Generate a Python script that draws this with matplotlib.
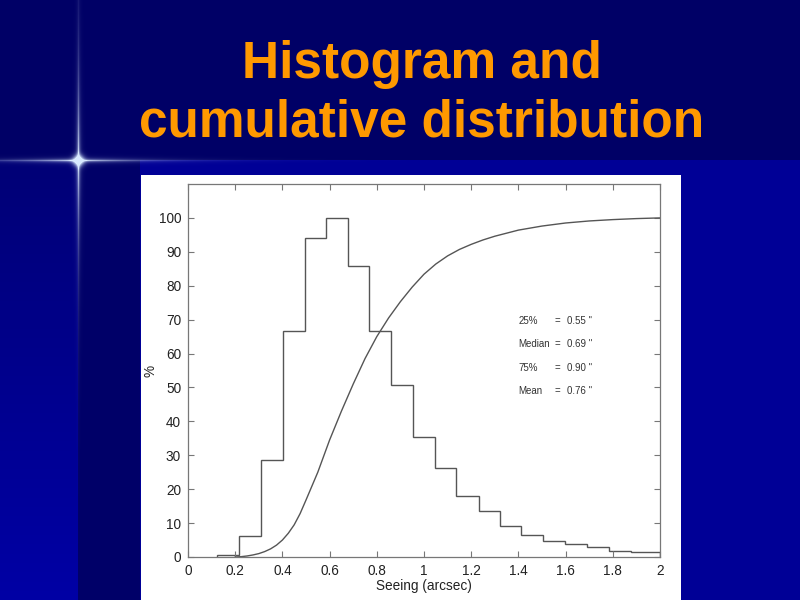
import numpy as np
import matplotlib
matplotlib.use("Agg")
import matplotlib.pyplot as plt
from matplotlib.patches import Rectangle

# ---- data ----
bin_edges = [0.124, 0.217, 0.308, 0.404, 0.496, 0.585, 0.680, 0.768, 0.861, 0.955,
             1.045, 1.136, 1.232, 1.322, 1.410, 1.506, 1.599, 1.692, 1.785, 1.876, 2.0]
hist_values = [0.7, 6.3, 28.6, 66.7, 94.2, 100.0, 85.9, 66.7, 50.7, 35.5,
               26.3, 18.0, 13.5, 9.1, 6.6, 4.6, 3.8, 2.9, 1.9, 1.4]

cdf_x = [0.20, 0.225, 0.25, 0.275, 0.30, 0.325, 0.35, 0.375, 0.40, 0.425, 0.45,
         0.475, 0.50, 0.55, 0.60, 0.65, 0.70, 0.75, 0.80, 0.85, 0.90, 0.95,
         1.00, 1.05, 1.10, 1.15, 1.20, 1.25, 1.30, 1.40, 1.50, 1.60, 1.70,
         1.80, 1.90, 2.00]
cdf_y = [0.0, 0.1, 0.3, 0.6, 1.0, 1.6, 2.4, 3.5, 5.0, 7.0, 9.5,
         12.8, 16.8, 25.0, 34.5, 43.0, 51.0, 58.5, 65.0, 70.5, 75.3, 79.6,
         83.4, 86.4, 88.8, 90.7, 92.2, 93.5, 94.6, 96.4, 97.6, 98.5, 99.1,
         99.5, 99.8, 100.0]

stat_labels = ["25%", "Median", "75%", "Mean"]
stat_values = ["0.55", "0.69", "0.90", "0.76"]

x_ticks = [0, 0.2, 0.4, 0.6, 0.8, 1, 1.2, 1.4, 1.6, 1.8, 2]
x_tick_labels = ["0", "0.2", "0.4", "0.6", "0.8", "1", "1.2", "1.4", "1.6", "1.8", "2"]
y_ticks = list(range(0, 101, 10))

title_lines = ["Histogram and", "cumulative distribution"]

# ---- figure ----
W, H = 800, 600
fig = plt.figure(figsize=(8, 6), dpi=100)

# background (slide decoration)
bg = np.zeros((H, W, 3))
bg[:, :] = np.array([0, 0, 102]) / 255.0
yy = np.arange(H)[:, None] * np.ones((1, W))
xx = np.ones((H, 1)) * np.arange(W)[None, :]
lower = yy >= 160
t = np.clip((yy - 160) / 440.0, 0, 1)[..., None]
left_col = (np.array([0, 0, 118]) / 255.0) * (1 - t) + (np.array([0, 0, 165]) / 255.0) * t
mask_left = lower & (xx < 78)
bg[mask_left] = left_col[mask_left]
bg[lower & (xx >= 78) & (xx < 140)] = np.array([0, 0, 104]) / 255.0
bg[lower & (xx >= 140)] = np.array([0, 0, 150]) / 255.0
d_v = np.abs(xx - 78)
d_h = np.abs(yy - 160)
glow_v = np.exp(-d_v / 1.5) * np.exp(-d_h / 70.0)
glow_h = np.exp(-d_h / 1.5) * np.exp(-d_v / 60.0)
glow_c = np.exp(-((xx - 78) ** 2 + (yy - 160) ** 2) / 30.0)
glow = np.clip(glow_v + glow_h + glow_c, 0, 1)[..., None]
flare = np.array([0.85, 0.92, 1.0])
bg = bg * (1 - glow) + flare * glow

bax = fig.add_axes([0, 0, 1, 1], zorder=0)
bax.imshow(bg, extent=[0, W, H, 0], aspect="auto", interpolation="bilinear")
bax.add_patch(Rectangle((141, 175), 681 - 141, 600 - 175, facecolor="white",
                        edgecolor="none"))
bax.set_xlim(0, W)
bax.set_ylim(H, 0)
bax.axis("off")

# title
title_kw = dict(ha="center", va="baseline", color="#FF9900", fontsize=37,
                fontweight="bold", family=["Liberation Sans", "DejaVu Sans"])
fig.text(422 / W, 1 - 78 / H, title_lines[0], **title_kw)
fig.text(422 / W, 1 - 137 / H, title_lines[1], **title_kw)

# main axes
ax = fig.add_axes([188 / W, 1 - 557 / H, (660 - 188) / W, (557 - 184) / H], zorder=2)
ax.set_facecolor("white")
gray = "#555555"
font = ["Liberation Sans", "DejaVu Sans"]

ax.stairs(hist_values, bin_edges, color=gray, linewidth=1.0)
ax.plot(cdf_x, cdf_y, color=gray, linewidth=1.0, solid_joinstyle="round")

ax.set_xlim(0, 2)
ax.set_ylim(0, 110)
ax.set_xticks(x_ticks)
ax.set_xticklabels(x_tick_labels)
ax.set_yticks(y_ticks)
for s in ax.spines.values():
    s.set_color("#777777")
    s.set_linewidth(0.9)
ax.tick_params(direction="in", length=4, width=0.8, color="#777777",
               top=True, right=True, labelsize=9.8, labelcolor="#222222", pad=5)
for lab in ax.get_xticklabels() + ax.get_yticklabels():
    lab.set_family(font)

ax.set_xlabel("Seeing (arcsec)", fontsize=9.8, color="#222222", family=font, labelpad=1)
ax.set_ylabel("%", fontsize=9.8, color="#222222", family=font, labelpad=1)

stat_y = [69.7, 62.7, 55.8, 49.0]
for lab, val, yv in zip(stat_labels, stat_values, stat_y):
    ax.text(1.40, yv, lab, fontsize=7, color="#333333", family=font, va="center")
    ax.text(1.555, yv, "=", fontsize=7, color="#333333", family=font, va="center")
    ax.text(1.606, yv, val + " \"", fontsize=7, color="#333333",
            family=font, va="center")

fig.savefig("out.png", dpi=100)
